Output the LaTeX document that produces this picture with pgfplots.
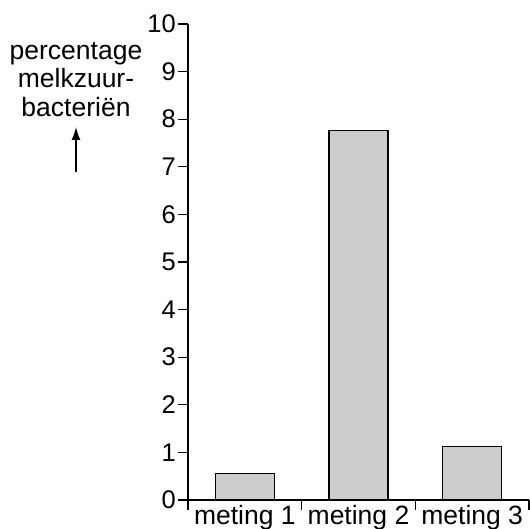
\documentclass[border=0pt]{standalone}
\usepackage{pgfplots}
\pgfplotsset{compat=1.18}
\usepackage{fontspec}
\setmainfont{Liberation Sans}
\usetikzlibrary{arrows.meta}
\definecolor{barfill}{RGB}{204,204,204}
\begin{document}
\fontsize{26.5bp}{28bp}\selectfont
\begin{tikzpicture}
\useasboundingbox (-188bp,-29bp) rectangle (342bp,500bp);
\begin{axis}[
  at={(0,0)}, anchor=south west,
  scale only axis, width=341bp, height=476bp,
  xmin=-0.5, xmax=2.5, ymin=0, ymax=10,
  axis lines=left,
  axis line style={-, line width=1.3bp, black},
  ytick={0,1,...,10},
  xtick={-0.5,0.5,1.5,2.5}, xticklabels={},
  extra x ticks={0,1,2},
  extra x tick labels={meting 1,meting 2,meting 3},
  extra x tick style={major tick length=0pt, tick label style={inner sep=5bp, anchor=north, font=\fontsize{26.5bp}{28bp}\selectfont}},
  tick align=outside,
  major tick length=10bp,
  tick style={line width=1.3bp, black},
  /pgf/number format/assume math mode=true,
  yticklabel style={inner sep=2bp, font=\fontsize{25.5bp}{28bp}\selectfont},
  xtick pos=bottom, ytick pos=left,
]
\addplot[ybar, bar width=59bp, fill=barfill, draw=black, line width=1.2bp]
  coordinates {(0,0.56) (1,7.76) (2,1.12)};
\end{axis}
\node[anchor=base] at (-112bp,440bp) {percentage};
\node[anchor=base] at (-112bp,412bp) {melkzuur-};
\node[anchor=base] at (-112bp,383bp) {bacteriën};
\draw[line width=1.4bp, -{Latex[length=13bp,width=9bp]}] (-112bp,328bp) -- (-112bp,373bp);
\end{tikzpicture}
\end{document}
